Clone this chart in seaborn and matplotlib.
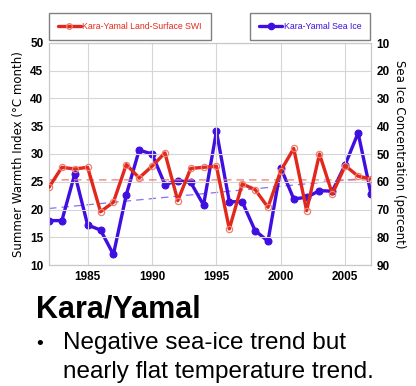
import numpy as np
import pandas as pd
import matplotlib
matplotlib.use("Agg")
import matplotlib.pyplot as plt
from matplotlib import font_manager
import seaborn as sns

years = list(range(1982, 2008))
swi = [24.0, 27.6, 27.3, 27.6, 19.6, 21.3, 28.1, 25.7, 27.8, 30.2, 21.6, 27.4, 27.6,
       27.8, 16.5, 24.6, 23.6, 20.4, 27.0, 31.0, 19.8, 30.0, 22.8, 27.9, 26.0, 25.5]
sea_ice = [74.0, 74.0, 57.2, 75.6, 77.4, 86.2, 64.7, 48.6, 50.0, 61.0, 59.6, 60.2, 68.4,
           41.8, 67.2, 67.2, 77.6, 81.4, 55.0, 66.2, 65.6, 63.2, 63.4, 53.8, 42.4, 64.4]

df = pd.DataFrame({"year": years, "swi": swi, "ice": sea_ice})

red = "#e2281c"
blue = "#3f0ee0"

sns.set_theme(style="white")
names = {f.name for f in font_manager.fontManager.ttflist}
narrow = "Liberation Sans Narrow" if "Liberation Sans Narrow" in names else "Liberation Sans"
plt.rcParams["font.family"] = [narrow, "DejaVu Sans"]
plt.rcParams["text.color"] = "black"

fig = plt.figure(figsize=(4.16, 3.86), dpi=100)
ax = fig.add_axes([49 / 416, 1 - 265 / 386, 322 / 416, 222 / 386])
ax2 = ax.twinx()

# trends
yr = np.array(years)
p1 = np.polyfit(yr, swi, 1)
p2 = np.polyfit(yr, sea_ice, 1)
ax.plot(yr, np.polyval(p1, yr), color="#f07a70", lw=0.9, ls=(0, (6, 4)), zorder=2)
ax2.plot(yr, np.polyval(p2, yr), color="#8a70f0", lw=0.9, ls=(0, (6, 4)), zorder=2)

sns.lineplot(data=df, x="year", y="swi", ax=ax, color=red, lw=2.4, marker="o",
             markersize=4.5, markerfacecolor="none", markeredgecolor="#f08070",
             markeredgewidth=0.9, zorder=4)
sns.lineplot(data=df, x="year", y="ice", ax=ax2, color=blue, lw=2.4, marker="o",
             markersize=5, markeredgecolor=blue, zorder=4)

ax.set_xlim(1982, 2007)
ax.set_ylim(10, 50)
ax2.set_ylim(90, 10)
ax.set_xticks([1985, 1990, 1995, 2000, 2005])
ax.set_yticks(range(10, 51, 5))
ax2.set_yticks(range(10, 91, 10))
ax.grid(True, color="#d6d6d6", lw=0.8)
ax.set_zorder(ax2.get_zorder() + 1)
ax.patch.set_visible(False)

for a in (ax, ax2):
    a.tick_params(length=0, labelsize=8.5, pad=4, labelcolor="black")
    for s in a.spines.values():
        s.set_color("#c8c8c8")
        s.set_linewidth(0.8)
    for t in a.get_xticklabels() + a.get_yticklabels():
        t.set_fontweight("bold")

ax.set_xlabel("")
ax.set_ylabel("Summer Warmth Index (°C month)", fontsize=8.5, family="DejaVu Sans",
              labelpad=4, color="black")
ax2.set_ylabel("Sea Ice Concentration (percent)", fontsize=8.5, family="DejaVu Sans",
               rotation=270, labelpad=12, color="black")

h1 = plt.Line2D([], [], color=red, lw=2.4, marker="o", markersize=4,
                markerfacecolor="none", markeredgecolor="#f08070")
h2 = plt.Line2D([], [], color=blue, lw=2.4, marker="o", markersize=4.5)
leg_kw = dict(fancybox=False, edgecolor="#808080", fontsize=6.3, handlelength=2.6,
              handletextpad=0.2, borderpad=1.0, borderaxespad=0, framealpha=1)
fig.legend([h1], ["Kara-Yamal Land-Surface SWI"], loc="upper left",
           bbox_to_anchor=(49 / 416, 1 - 13 / 386), labelcolor=red, **leg_kw)
fig.legend([h2], ["Kara-Yamal Sea Ice"], loc="upper right",
           bbox_to_anchor=(370 / 416, 1 - 13 / 386), labelcolor=blue, **leg_kw)

fig.text(36 / 416, 1 - 318 / 386, "Kara/Yamal", fontsize=22, fontweight="bold",
         family="Liberation Sans", va="baseline")
fig.text(36 / 416, 1 - 349 / 386, "•", fontsize=14, family="Liberation Sans",
         va="baseline")
fig.text(63 / 416, 1 - 349 / 386, "Negative sea-ice trend but", fontsize=17.5,
         family="Liberation Sans", va="baseline")
fig.text(63 / 416, 1 - 378 / 386, "nearly flat temperature trend.", fontsize=17.5,
         family="Liberation Sans", va="baseline")

fig.savefig("out.png", dpi=100)
